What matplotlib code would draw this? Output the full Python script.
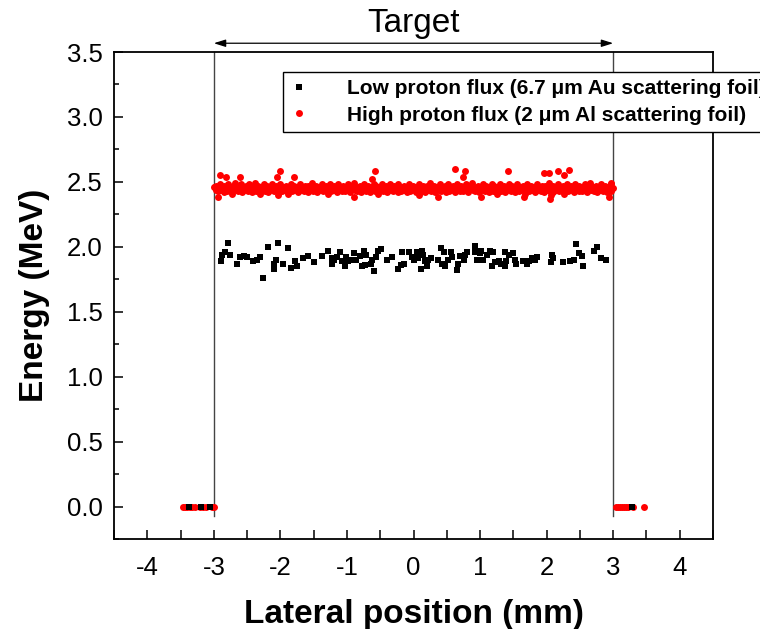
import matplotlib
matplotlib.use('Agg')
import matplotlib.pyplot as plt
from matplotlib.ticker import MultipleLocator

plt.rcParams['font.family'] = ['Liberation Sans', 'DejaVu Sans']

# ---------------- data ----------------
label_low = 'Low proton flux (6.7 \u03bcm Au scattering foil)'
label_high = 'High proton flux (2 \u03bcm Al scattering foil)'

black_x = [-2.78, -2.83, -2.88, -2.75, -2.89, -2.65, -2.60, -2.55, -2.50, -2.41,
           -2.35, -2.30, -2.26, -2.19, -2.03, -1.88, -2.06, -2.09, -2.10, -1.96,
           -1.84, -1.78, -1.75, -1.66, -1.58, -1.49, -1.38, -1.28, -1.23, -1.19,
           -1.15, -1.11, -1.22, -1.07, -1.03, -1.01, -0.98, -0.90, -0.93, -0.86,
           -0.80, -0.75, -0.72, -0.78, -0.73, -0.64, -0.63, -0.59, -0.57, -0.53,
           -0.49, -0.40, -0.33, -0.23, -0.19, -0.14, -0.17, -0.07, -0.03, 0.00,
           0.05, 0.07, 0.13, 0.15, 0.17, 0.20, 0.12, 0.22, 0.26, 0.41,
           0.37, 0.43, 0.47, 0.46, 0.52, 0.56, 0.58, 0.65, 0.67, 0.70,
           0.76, 0.77, 0.80, 0.92, 0.93, 0.96, 1.00, 1.02, 1.05, 1.10,
           1.15, 1.19, 1.18, 1.23, 1.28, 1.32, 1.37, 1.39, 1.37, 1.43,
           1.50, 1.52, 1.54, 1.65, 1.70, 1.73, 1.78, 1.82, 1.85, 2.08,
           2.09, 2.07, 2.25, 2.35, 2.41, 2.44, 2.49, 2.53, 2.54, 2.71,
           2.76, 2.81, 2.89,
           -3.38, -3.20, -3.06, 3.28]
black_y = [2.03, 1.96, 1.94, 1.94, 1.89, 1.87, 1.92, 1.93, 1.92, 1.89,
           1.90, 1.92, 1.76, 2.00, 2.03, 1.99, 1.90, 1.87, 1.83, 1.87,
           1.84, 1.89, 1.85, 1.91, 1.93, 1.88, 1.93, 1.97, 1.91, 1.90,
           1.92, 1.96, 1.87, 1.89, 1.85, 1.92, 1.89, 1.95, 1.90, 1.90,
           1.93, 1.97, 1.94, 1.85, 1.86, 1.87, 1.90, 1.81, 1.92, 1.97,
           1.98, 1.90, 1.92, 1.83, 1.86, 1.87, 1.96, 1.96, 1.92, 1.90,
           1.96, 1.91, 1.97, 1.94, 1.89, 1.85, 1.83, 1.90, 1.91, 1.99,
           1.90, 1.87, 1.85, 1.96, 1.90, 1.96, 1.92, 1.82, 1.87, 1.93,
           1.90, 1.94, 1.96, 2.01, 1.96, 1.90, 1.95, 1.97, 1.90, 1.94,
           1.97, 1.96, 1.85, 1.88, 1.89, 1.87, 1.85, 1.89, 1.96, 1.94,
           1.95, 1.90, 1.87, 1.89, 1.87, 1.89, 1.91, 1.90, 1.92, 1.94,
           1.91, 1.88, 1.88, 1.89, 1.90, 2.02, 1.95, 1.93, 1.85, 1.97,
           2.00, 1.91, 1.90,
           0.0, 0.0, 0.0, 0.0]

red_band_x = [
    -2.99, -2.97, -2.96, -2.94, -2.92, -2.91, -2.89, -2.87, -2.85, -2.84,
    -2.82, -2.80, -2.78, -2.77, -2.75, -2.73, -2.71, -2.70, -2.68, -2.66,
    -2.64, -2.63, -2.61, -2.59, -2.57, -2.55, -2.54, -2.52, -2.50, -2.48,
    -2.47, -2.45, -2.43, -2.41, -2.39, -2.38, -2.36, -2.34, -2.32, -2.31,
    -2.29, -2.27, -2.25, -2.23, -2.22, -2.20, -2.18, -2.16, -2.15, -2.13,
    -2.11, -2.09, -2.07, -2.06, -2.04, -2.02, -2.00, -1.99, -1.97, -1.95,
    -1.93, -1.91, -1.90, -1.88, -1.86, -1.84, -1.83, -1.81, -1.79, -1.77,
    -1.75, -1.74, -1.72, -1.70, -1.68, -1.67, -1.65, -1.63, -1.61, -1.59,
    -1.58, -1.56, -1.54, -1.52, -1.51, -1.49, -1.47, -1.45, -1.43, -1.42,
    -1.40, -1.38, -1.36, -1.35, -1.33, -1.31, -1.29, -1.27, -1.26, -1.24,
    -1.22, -1.20, -1.19, -1.17, -1.15, -1.13, -1.11, -1.10, -1.08, -1.06,
    -1.04, -1.03, -1.01, -0.99, -0.97, -0.95, -0.94, -0.92, -0.90, -0.88,
    -0.87, -0.85, -0.83, -0.81, -0.79, -0.78, -0.76, -0.74, -0.72, -0.71,
    -0.69, -0.67, -0.65, -0.63, -0.62, -0.60, -0.58, -0.56, -0.55, -0.53,
    -0.51, -0.49, -0.47, -0.46, -0.44, -0.42, -0.40, -0.39, -0.37, -0.35,
    -0.33, -0.31, -0.30, -0.28, -0.26, -0.24, -0.23, -0.21, -0.19, -0.17,
    -0.15, -0.14, -0.12, -0.10, -0.08, -0.07, -0.05, -0.03, -0.01, 0.01,
    0.02, 0.04, 0.06, 0.08, 0.09, 0.11, 0.13, 0.15, 0.17, 0.18,
    0.20, 0.22, 0.24, 0.25, 0.27, 0.29, 0.31, 0.33, 0.34, 0.36,
    0.38, 0.40, 0.41, 0.43, 0.45, 0.47, 0.49, 0.50, 0.52, 0.54,
    0.56, 0.57, 0.59, 0.61, 0.63, 0.65, 0.66, 0.68, 0.70, 0.72,
    0.73, 0.75, 0.77, 0.79, 0.81, 0.82, 0.84, 0.86, 0.88, 0.89,
    0.91, 0.93, 0.95, 0.97, 0.98, 1.00, 1.02, 1.04, 1.05, 1.07,
    1.09, 1.11, 1.13, 1.14, 1.16, 1.18, 1.20, 1.21, 1.23, 1.25,
    1.27, 1.29, 1.30, 1.32, 1.34, 1.36, 1.37, 1.39, 1.41, 1.43,
    1.45, 1.46, 1.48, 1.50, 1.52, 1.53, 1.55, 1.57, 1.59, 1.61,
    1.62, 1.64, 1.66, 1.68, 1.69, 1.71, 1.73, 1.75, 1.77, 1.78,
    1.80, 1.82, 1.84, 1.85, 1.87, 1.89, 1.91, 1.93, 1.94, 1.96,
    1.98, 2.00, 2.01, 2.03, 2.05, 2.07, 2.09, 2.10, 2.12, 2.14,
    2.16, 2.17, 2.19, 2.21, 2.23, 2.25, 2.26, 2.28, 2.30, 2.32,
    2.33, 2.35, 2.37, 2.39, 2.41, 2.42, 2.44, 2.46, 2.48, 2.49,
    2.51, 2.53, 2.55, 2.57, 2.58, 2.60, 2.62, 2.64, 2.65, 2.67,
    2.69, 2.71, 2.73, 2.74, 2.76, 2.78, 2.80, 2.81, 2.83, 2.85,
    2.87, 2.89, 2.90, 2.92, 2.94, 2.96, 2.97, 2.99]
red_band_y = [
    2.46, 2.44, 2.47, 2.43, 2.45, 2.48, 2.44, 2.46, 2.42, 2.47,
    2.45, 2.43, 2.48, 2.46, 2.44, 2.41, 2.47, 2.45, 2.49, 2.44,
    2.46, 2.43, 2.45, 2.48, 2.42, 2.46, 2.44, 2.47, 2.45, 2.43,
    2.48, 2.45, 2.42, 2.46, 2.44, 2.49, 2.43, 2.47, 2.45, 2.41,
    2.46, 2.44, 2.48, 2.43, 2.45, 2.47, 2.42, 2.46, 2.44, 2.48,
    2.45, 2.43, 2.47, 2.44, 2.46, 2.42, 2.48, 2.45, 2.43, 2.46,
    2.44, 2.47, 2.45, 2.41, 2.46, 2.48, 2.43, 2.45, 2.47, 2.44,
    2.46, 2.42, 2.45, 2.48, 2.44, 2.46, 2.43, 2.47, 2.45, 2.42,
    2.47, 2.44, 2.46, 2.49, 2.43, 2.45, 2.47, 2.42, 2.46, 2.44,
    2.45, 2.48, 2.43, 2.46, 2.44, 2.47, 2.41, 2.45, 2.48, 2.43,
    2.46, 2.44, 2.47, 2.45, 2.42, 2.48, 2.44, 2.46, 2.43, 2.47,
    2.45, 2.43, 2.46, 2.48, 2.44, 2.42, 2.47, 2.45, 2.49, 2.44,
    2.46, 2.43, 2.45, 2.47, 2.42, 2.46, 2.44, 2.48, 2.45, 2.43,
    2.47, 2.45, 2.42, 2.46, 2.44, 2.48, 2.43, 2.47, 2.45, 2.41,
    2.46, 2.44, 2.48, 2.43, 2.45, 2.47, 2.42, 2.46, 2.44, 2.48,
    2.45, 2.43, 2.47, 2.44, 2.46, 2.42, 2.48, 2.45, 2.43, 2.46,
    2.44, 2.47, 2.45, 2.42, 2.46, 2.48, 2.43, 2.45, 2.47, 2.44,
    2.46, 2.42, 2.45, 2.48, 2.44, 2.46, 2.43, 2.47, 2.45, 2.42,
    2.47, 2.44, 2.46, 2.49, 2.43, 2.45, 2.47, 2.42, 2.46, 2.44,
    2.45, 2.48, 2.43, 2.46, 2.44, 2.47, 2.42, 2.45, 2.48, 2.43,
    2.46, 2.44, 2.47, 2.45, 2.42, 2.48, 2.44, 2.46, 2.43, 2.47,
    2.45, 2.43, 2.46, 2.48, 2.44, 2.42, 2.47, 2.45, 2.49, 2.44,
    2.46, 2.43, 2.45, 2.47, 2.42, 2.46, 2.44, 2.48, 2.45, 2.43,
    2.47, 2.45, 2.42, 2.46, 2.44, 2.48, 2.43, 2.47, 2.45, 2.41,
    2.46, 2.44, 2.48, 2.43, 2.45, 2.47, 2.42, 2.46, 2.44, 2.48,
    2.45, 2.43, 2.47, 2.44, 2.46, 2.42, 2.48, 2.45, 2.43, 2.46,
    2.44, 2.47, 2.45, 2.41, 2.46, 2.48, 2.43, 2.45, 2.47, 2.44,
    2.46, 2.42, 2.45, 2.48, 2.44, 2.46, 2.43, 2.47, 2.45, 2.42,
    2.47, 2.44, 2.46, 2.49, 2.43, 2.45, 2.47, 2.42, 2.46, 2.44,
    2.45, 2.48, 2.43, 2.46, 2.44, 2.47, 2.41, 2.45, 2.48, 2.43,
    2.46, 2.44, 2.47, 2.45, 2.42, 2.48, 2.44, 2.46, 2.43, 2.47,
    2.45, 2.43, 2.46, 2.48, 2.44, 2.42, 2.47, 2.45, 2.49, 2.44,
    2.46, 2.43, 2.45, 2.47, 2.42, 2.46, 2.44, 2.48, 2.45, 2.43,
    2.47, 2.45, 2.42, 2.46, 2.44, 2.48, 2.43, 2.45]

red_out_x = [-2.93, -2.91, -2.81, -2.60, -2.05, -2.01, -2.03, -1.80, -0.89, -0.63,
             -0.58, 0.09, 0.37, 0.62, 0.74, 0.77, 1.01, 1.42, 1.66, 1.96,
             2.04, 2.05, 2.07, 2.17, 2.26, 2.34, 2.94, 2.97, -2.98]
red_out_y = [2.38, 2.55, 2.54, 2.54, 2.54, 2.58, 2.40, 2.54, 2.38, 2.52,
             2.58, 2.40, 2.38, 2.60, 2.54, 2.58, 2.38, 2.58, 2.38, 2.57,
             2.57, 2.37, 2.40, 2.58, 2.55, 2.59, 2.38, 2.49, 2.46]

red_zero_x = [-3.47, -3.44, -3.40, -3.36, -3.33, -3.28, -3.21, -3.17, -3.12, -3.03,
              -3.00, 3.04, 3.07, 3.10, 3.13, 3.16, 3.19, 3.22, 3.30, 3.46]
red_zero_y = [0.0] * len(red_zero_x)

target_edges = [-3.0, 3.0]
target_label = 'Target'

red_x = red_band_x + red_out_x + red_zero_x
red_y = red_band_y + red_out_y + red_zero_y

# ---------------- figure ----------------
fig = plt.figure(figsize=(7.6, 6.29), dpi=100)
ax = fig.add_axes([114 / 760, 1 - 539 / 629, (713 - 114) / 760, (539 - 52) / 629])

h_red, = ax.plot(red_x, red_y, linestyle='none', marker='o', ms=5.0,
                 mfc='#ff0000', mec='#ff0000', mew=0, zorder=3)
h_blk, = ax.plot(black_x, black_y, linestyle='none', marker='s', ms=4.2,
                 mfc='black', mec='black', mew=0, zorder=4)

for xe in target_edges:
    ax.plot([xe, xe], [-0.07, 3.5], color='#444444', lw=1.0, zorder=2,
            clip_on=False)

ax.set_xlim(-4.5, 4.5)
ax.set_ylim(-0.25, 3.5)
ax.xaxis.set_major_locator(MultipleLocator(1))
ax.xaxis.set_minor_locator(MultipleLocator(0.5))
ax.yaxis.set_major_locator(MultipleLocator(0.5))
ax.yaxis.set_minor_locator(MultipleLocator(0.25))
ax.yaxis.set_major_formatter(matplotlib.ticker.FormatStrFormatter('%.1f'))
ax.xaxis.set_major_formatter(matplotlib.ticker.FuncFormatter(
    lambda v, p: '%d' % round(v)))

ax.tick_params(which='both', direction='in', top=False, right=False,
               labelsize=18.5, width=1.1)
ax.tick_params(axis='x', which='both', length=6.5, pad=12)
ax.tick_params(axis='y', which='major', length=6.5, pad=8)
ax.tick_params(axis='y', which='minor', length=3.5)
for sp in ax.spines.values():
    sp.set_linewidth(1.3)

ax.set_xlabel('Lateral position (mm)', fontsize=24, fontweight='bold', labelpad=14)
ax.set_ylabel('Energy (MeV)', fontsize=24, fontweight='bold', labelpad=12)

# target arrow and label
ax.annotate('', xy=(target_edges[1], 1.018), xytext=(target_edges[0], 1.018),
            xycoords=('data', 'axes fraction'), textcoords=('data', 'axes fraction'),
            arrowprops=dict(arrowstyle='<|-|>,head_length=0.7,head_width=0.22',
                            color='black', lw=0.9, shrinkA=0, shrinkB=0))
ax.text(0.0, 1.058, target_label, transform=ax.get_xaxis_transform(),
        ha='center', va='center', fontsize=24)

leg = ax.legend([h_blk, h_red], [label_low, label_high],
                loc='upper left', bbox_to_anchor=(283 / 760, 1 - 72 / 629),
                bbox_transform=fig.transFigure, borderaxespad=0,
                frameon=True, fancybox=False, framealpha=1, edgecolor='black',
                prop={'weight': 'bold', 'size': 15}, numpoints=1,
                handlelength=0.8, handletextpad=1.9, borderpad=0.35,
                labelspacing=0.35)
leg.get_frame().set_linewidth(1.0)
leg.set_zorder(10)

fig.savefig('out.png', dpi=100)
